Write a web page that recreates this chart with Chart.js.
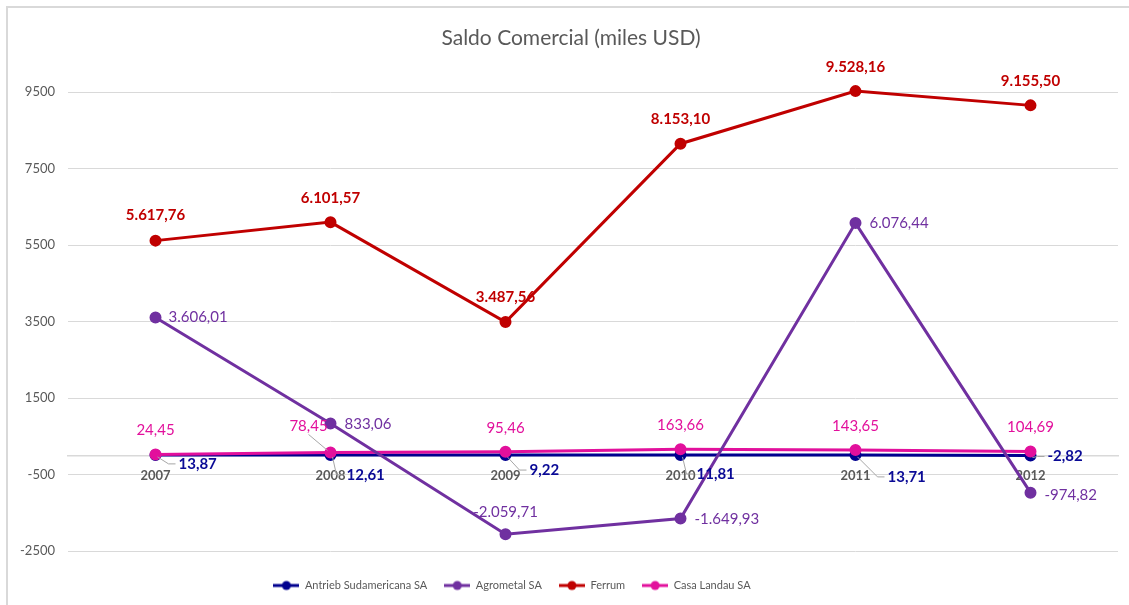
<!DOCTYPE html>
<html>
<head>
<meta charset="utf-8">
<script src="https://cdn.jsdelivr.net/npm/chart.js@4.4.1/dist/chart.umd.min.js"></script>
<style>
  html, body { margin: 0; padding: 0; background: #fff; }
  #wrap { position: relative; width: 1129px; height: 605px; overflow: hidden; }
  #frame { position: absolute; left: 6px; top: 6px; width: 1200px; height: 700px;
           border-top: 2px solid #d9d9d9; border-left: 2px solid #d9d9d9; pointer-events: none; }
  canvas { position: absolute; left: 0; top: 0; }
</style>
</head>
<body>
<div id="wrap">
  <canvas id="c" width="1129" height="605"></canvas>
  <div id="frame"></div>
</div>
<script>
// ---- data ----
const categories = ['2007', '2008', '2009', '2010', '2011', '2012'];
const antrieb   = [13.87, 12.61, 9.22, 11.81, 13.71, -2.82];
const agrometal = [3606.01, 833.06, -2059.71, -1649.93, 6076.44, -974.82];
const ferrum    = [5617.76, 6101.57, 3487.56, 8153.10, 9528.16, 9155.50];
const casaLandau = [24.45, 78.45, 95.46, 163.66, 143.65, 104.69];
const yTicks = [-2500, -500, 1500, 3500, 5500, 7500, 9500];
const seriesNames = ['Antrieb Sudamericana SA', 'Agrometal SA', 'Ferrum', 'Casa Landau SA'];

// ---- styles ----
const COLORS = ['#00008F', '#7030A0', '#C00000', '#E2109C'];
const LABEL_COLORS = ['#0A0A96', '#7030A0', '#C00000', '#E2109C'];
const FONT = 'Lato, "Open Sans", sans-serif';
const GRAY = '#595959';

// label placement per dataset (offsets from the point, in px)
const labelPlacement = [
  { bold: true, items: [
    {dx: 23, dy: 9, align: 'left', leader: true},
    {dx: 16, dy: 20, align: 'left', leader: true},
    {dx: 24, dy: 15, align: 'left', leader: true},
    {dx: 16, dy: 19, align: 'left', leader: true},
    {dx: 32, dy: 22, align: 'left', leader: true},
    {dx: 17, dy: 1, align: 'left', leader: true}
  ]},
  { bold: false, items: [
    {dx: 13, dy: 0, align: 'left'},
    {dx: 14, dy: 1, align: 'left'},
    {dx: 0, dy: -22, align: 'center'},
    {dx: 14, dy: 1, align: 'left'},
    {dx: 14, dy: 0, align: 'left'},
    {dx: 14, dy: 2, align: 'left'}
  ]},
  { bold: true, items: [
    {dx: 0, dy: -25, align: 'center'},
    {dx: 0, dy: -24, align: 'center'},
    {dx: 0, dy: -25, align: 'center'},
    {dx: 0, dy: -25, align: 'center'},
    {dx: 0, dy: -24, align: 'center'},
    {dx: 0, dy: -24, align: 'center'}
  ]},
  { bold: false, items: [
    {dx: 0, dy: -24, align: 'center'},
    {dx: -22, dy: -26, align: 'center', leader: true},
    {dx: 0, dy: -24, align: 'center'},
    {dx: 0, dy: -24, align: 'center'},
    {dx: 0, dy: -24, align: 'center'},
    {dx: 0, dy: -24, align: 'center'}
  ]}
];

function fmt(v) {
  const s = Math.abs(v).toFixed(2);
  let [i, d] = s.split('.');
  i = i.replace(/\B(?=(\d{3})+(?!\d))/g, '.');
  return (v < 0 ? '-' : '') + i + ',' + d;
}

function marker(color) {
  const c = document.createElement('canvas');
  c.width = 26; c.height = 12;
  const g = c.getContext('2d');
  g.strokeStyle = color; g.lineWidth = 3;
  g.beginPath(); g.moveTo(0, 6); g.lineTo(26, 6); g.stroke();
  g.fillStyle = color;
  g.beginPath(); g.arc(13, 6, 4.5, 0, Math.PI * 2); g.fill();
  return c;
}

const dataLabels = {
  id: 'dataLabels',
  afterDatasetsDraw(chart) {
    const ctx = chart.ctx;
    ctx.save();
    chart.data.datasets.forEach((ds, di) => {
      const meta = chart.getDatasetMeta(di);
      const spec = labelPlacement[di];
      ctx.font = (spec.bold ? 'bold ' : '') + '15px ' + FONT;
      meta.data.forEach((pt, i) => {
        const p = spec.items[i];
        const text = fmt(ds.data[i]);
        const tx = pt.x + p.dx, ty = pt.y + p.dy;
        if (p.leader) {
          ctx.strokeStyle = '#A6A6A6';
          ctx.lineWidth = 1;
          ctx.beginPath();
          if (p.align === 'left') {
            ctx.moveTo(pt.x + 2, pt.y + 2);
            ctx.lineTo(tx - 10, ty);
            ctx.lineTo(tx - 3, ty);
          } else {
            ctx.moveTo(tx, ty + 8);
            ctx.lineTo(pt.x - 3, pt.y - 2);
          }
          ctx.stroke();
        }
        ctx.fillStyle = LABEL_COLORS[di];
        ctx.textAlign = p.align;
        ctx.textBaseline = 'middle';
        ctx.fillText(text, tx, ty);
      });
    });
    ctx.restore();
  }
};

// shift title / legend blocks horizontally to match the original placement
const blockShift = {
  id: 'blockShift',
  afterLayout(chart) {
    if (chart.titleBlock) { chart.titleBlock.left += 12; chart.titleBlock.right += 12; }
    if (chart.legend) { chart.legend.left -= 47; chart.legend.right -= 47; }
  }
};

const seriesValues = [antrieb, agrometal, ferrum, casaLandau];
const orders = [3, 0, 2, 1];

new Chart(document.getElementById('c'), {
  type: 'line',
  data: {
    labels: categories,
    datasets: seriesValues.map((vals, i) => ({
      label: seriesNames[i],
      data: vals,
      borderColor: COLORS[i],
      backgroundColor: COLORS[i],
      pointBackgroundColor: COLORS[i],
      pointBorderColor: COLORS[i],
      borderWidth: 3,
      pointRadius: 4.5,
      pointHoverRadius: 4.5,
      tension: 0,
      clip: false,
      order: orders[i]
    }))
  },
  options: {
    responsive: false,
    animation: false,
    events: [],
    layout: { padding: { left: 0, right: 11, top: 0, bottom: 4 } },
    scales: {
      x: {
        type: 'category',
        position: { y: 0 },
        offset: true,
        grid: { display: false, drawTicks: false },
        border: { display: true, color: '#D9D9D9', width: 1.5 },
        ticks: { color: GRAY, font: { family: FONT, size: 13, weight: 'bold' }, padding: 13, maxRotation: 0 }
      },
      y: {
        min: -2500, max: 9500,
        afterBuildTicks: (s) => { s.ticks = yTicks.map(v => ({ value: v })); },
        afterFit: (s) => { s.width = 68; },
        grid: { color: '#D9D9D9', lineWidth: 1, drawTicks: false },
        border: { display: false },
        ticks: { color: GRAY, font: { family: FONT, size: 13 }, padding: 13, callback: (v) => String(v) }
      }
    },
    plugins: {
      title: {
        display: true,
        text: 'Saldo Comercial (miles USD)',
        color: GRAY,
        font: { family: FONT, size: 21, weight: 'normal' },
        padding: { top: 26, bottom: 41 }
      },
      legend: {
        position: 'bottom',
        title: { display: true, text: '', font: { size: 12, lineHeight: 1 }, padding: 0 },
        labels: {
          usePointStyle: true,
          pointStyleWidth: 26,
          padding: 17,
          color: GRAY,
          font: { family: FONT, size: 11 },
          generateLabels: (chart) => chart.data.datasets.map((ds, i) => ({
            text: ds.label,
            pointStyle: marker(ds.borderColor),
            fillStyle: ds.borderColor,
            strokeStyle: ds.borderColor,
            lineWidth: 0,
            hidden: false,
            datasetIndex: i,
            fontColor: GRAY
          }))
        }
      },
      tooltip: { enabled: false }
    }
  },
  plugins: [dataLabels, blockShift]
});
</script>
</body>
</html>
